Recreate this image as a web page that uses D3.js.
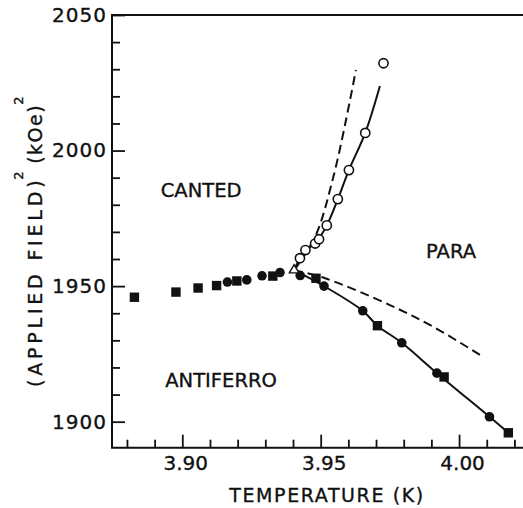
<!DOCTYPE html>
<html>
<head>
<meta charset="utf-8">
<script src="https://cdn.jsdelivr.net/npm/d3@7"></script>
<style>
  body { margin: 0; background: #fff; }
  text { font-family: "DejaVu Sans", sans-serif; fill: #111; stroke: #111; stroke-width: 0.35px; }
</style>
</head>
<body>
<div id="chart"></div>
<script>
// values (T in K, H^2 in kOe^2)
const squareT = [3.8827, 3.8977, 3.9057, 3.9124, 3.9197, 3.9327, 3.9483, 3.9705, 3.9946, 4.0178];
const squareH = [1945.9, 1947.8, 1949.3, 1950.2, 1951.9, 1953.7, 1952.9, 1935.4, 1916.5, 1895.9];

const dotT = [3.9163, 3.9233, 3.9288, 3.9353, 3.9426, 3.9512, 3.9652, 3.9793, 3.9920, 4.0110];
const dotH = [1951.5, 1952.3, 1953.8, 1955.0, 1953.9, 1950.0, 1940.9, 1929.1, 1917.9, 1901.8];

const openT = [3.9425, 3.9445, 3.9480, 3.9494, 3.9522, 3.9562, 3.9602, 3.9661, 3.9727];
const openH = [1960.3, 1963.3, 1965.7, 1967.3, 1972.4, 1982.1, 1992.8, 2006.5, 2032.2];

const tripleT = [3.9404];
const tripleH = [1955.9];

// drawn boundary curves
const upperSolidT = [3.9404, 3.9425, 3.9445, 3.9480, 3.9522, 3.9562, 3.9602, 3.9661, 3.9714];
const upperSolidH = [1955.9, 1960.3, 1963.3, 1965.7, 1972.4, 1982.1, 1992.8, 2006.5, 2023.8];
const upperDashT = [3.9404, 3.9480, 3.9546, 3.9606, 3.9627];
const upperDashH = [1955.9, 1968.2, 1990.4, 2018.6, 2029.7];
const lowerSolidT = [3.9404, 3.9512, 3.9652, 3.9705, 3.9793, 3.9920, 4.0110, 4.0178];
const lowerSolidH = [1955.9, 1950.0, 1940.9, 1935.4, 1929.1, 1917.9, 1901.8, 1895.9];
const lowerDashT = [3.9404, 3.9516, 3.9750, 3.9907, 4.0082];
const lowerDashH = [1955.9, 1952.9, 1943.0, 1935.0, 1924.2];

const xMajor = [3.90, 3.95, 4.00];
const xMinor = [3.88, 3.89, 3.91, 3.92, 3.93, 3.94, 3.96, 3.97, 3.98, 3.99, 4.01, 4.02];
const yMajor = [1900, 1950, 2000, 2050];
const yMinor = [1910, 1920, 1930, 1940, 1960, 1970, 1980, 1990, 2010, 2020, 2030, 2040];

// phase names, placed at their baseline
const regions = ["CANTED", "PARA", "ANTIFERRO"];
const regionT = [3.9068, 3.9971, 3.9140];
const regionH = [1982.8, 1960.5, 1912.9];

const width = 523;
const height = 508;
const ink = "#111";

const x = d3.scaleLinear().domain([3.8746, 4.0231]).range([112, 523]);
const y = d3.scaleLinear().domain([1890.4, 2050]).range([447.7, 15]);

const svg = d3.select("#chart").append("svg")
    .attr("width", width)
    .attr("height", height);

// frame (left, bottom, top)
svg.append("path")
    .attr("d", `M${x.range()[1]},${y(2050)}H${x(3.8746)}V${y(1890.4)}H${x.range()[1]}`)
    .attr("fill", "none")
    .attr("stroke", ink)
    .attr("stroke-width", 2);

// ticks point into the plot
function styleAxis(g) {
    g.select(".domain").remove();
    g.selectAll(".tick line").attr("stroke", ink).attr("stroke-width", 1.8);
}

svg.append("g")
    .attr("transform", `translate(0,${y(1890.4)})`)
    .call(d3.axisBottom(x).tickValues(xMinor).tickSize(-8).tickFormat(""))
    .call(styleAxis);

svg.append("g")
    .attr("transform", `translate(0,${y(1890.4)})`)
    .call(d3.axisBottom(x).tickValues(xMajor).tickSize(-13).tickPadding(8).tickFormat(d3.format(".2f")))
    .call(styleAxis)
    .selectAll("text")
    .attr("font-size", 20)
    .attr("dx", 3);

svg.append("g")
    .attr("transform", `translate(${x(3.8746)},0)`)
    .call(d3.axisLeft(y).tickValues(yMinor).tickSize(-8).tickFormat(""))
    .call(styleAxis);

svg.append("g")
    .attr("transform", `translate(${x(3.8746)},0)`)
    .call(d3.axisLeft(y).tickValues(yMajor).tickSize(-13).tickPadding(5).tickFormat(d3.format("d")))
    .call(styleAxis)
    .selectAll("text")
    .attr("font-size", 20)
    .attr("letter-spacing", 1);

// axis titles
svg.append("text")
    .attr("x", 327)
    .attr("y", 501.5)
    .attr("text-anchor", "middle")
    .attr("font-size", 19)
    .attr("letter-spacing", 1.6)
    .text("TEMPERATURE (K)");

const ytitle = svg.append("text")
    .attr("transform", "translate(42,387) rotate(-90)")
    .attr("text-anchor", "start")
    .attr("font-size", 19);
ytitle.append("tspan").attr("letter-spacing", 3.8).text("(APPLIED FIELD)");
ytitle.append("tspan").attr("dy", -19).attr("dx", -3).attr("font-size", 13).text("2");
ytitle.append("tspan").attr("dy", 19).attr("letter-spacing", 1.5).text(" (kOe)");
ytitle.append("tspan").attr("dy", -19).attr("dx", -1).attr("font-size", 13).text("2");

// region names
svg.append("g").selectAll("text")
    .data(regions)
    .join("text")
    .attr("x", (d, i) => x(regionT[i]))
    .attr("y", (d, i) => y(regionH[i]))
    .attr("text-anchor", "middle")
    .attr("font-size", 19.5)
    .text(d => d);

// boundary lines
const line = d3.line()
    .x(d => x(d[0]))
    .y(d => y(d[1]))
    .curve(d3.curveCatmullRom);

const curves = [
    {t: upperSolidT, h: upperSolidH, dash: null},
    {t: upperDashT, h: upperDashH, dash: "9,5"},
    {t: lowerSolidT, h: lowerSolidH, dash: null},
    {t: lowerDashT, h: lowerDashH, dash: "9,5"}
];

svg.append("g").selectAll("path")
    .data(curves)
    .join("path")
    .attr("d", c => line(d3.zip(c.t, c.h)))
    .attr("fill", "none")
    .attr("stroke", ink)
    .attr("stroke-width", 2)
    .attr("stroke-dasharray", c => c.dash);

// markers
svg.append("g").selectAll("rect")
    .data(d3.zip(squareT, squareH))
    .join("rect")
    .attr("x", d => x(d[0]) - 4.7)
    .attr("y", d => y(d[1]) - 4.7)
    .attr("width", 9.4)
    .attr("height", 9.4)
    .attr("fill", ink);

svg.append("g").selectAll("circle")
    .data(d3.zip(dotT, dotH))
    .join("circle")
    .attr("cx", d => x(d[0]))
    .attr("cy", d => y(d[1]))
    .attr("r", 4.8)
    .attr("fill", ink);

svg.append("g").selectAll("circle")
    .data(d3.zip(openT, openH))
    .join("circle")
    .attr("cx", d => x(d[0]))
    .attr("cy", d => y(d[1]))
    .attr("r", 4.6)
    .attr("fill", "#fff")
    .attr("stroke", ink)
    .attr("stroke-width", 1.6);

svg.append("g").selectAll("path")
    .data(d3.zip(tripleT, tripleH))
    .join("path")
    .attr("transform", d => `translate(${x(d[0])},${y(d[1])})`)
    .attr("d", d3.symbol(d3.symbolTriangle, 40))
    .attr("fill", "#fff")
    .attr("stroke", ink)
    .attr("stroke-width", 1.4);
</script>
</body>
</html>
